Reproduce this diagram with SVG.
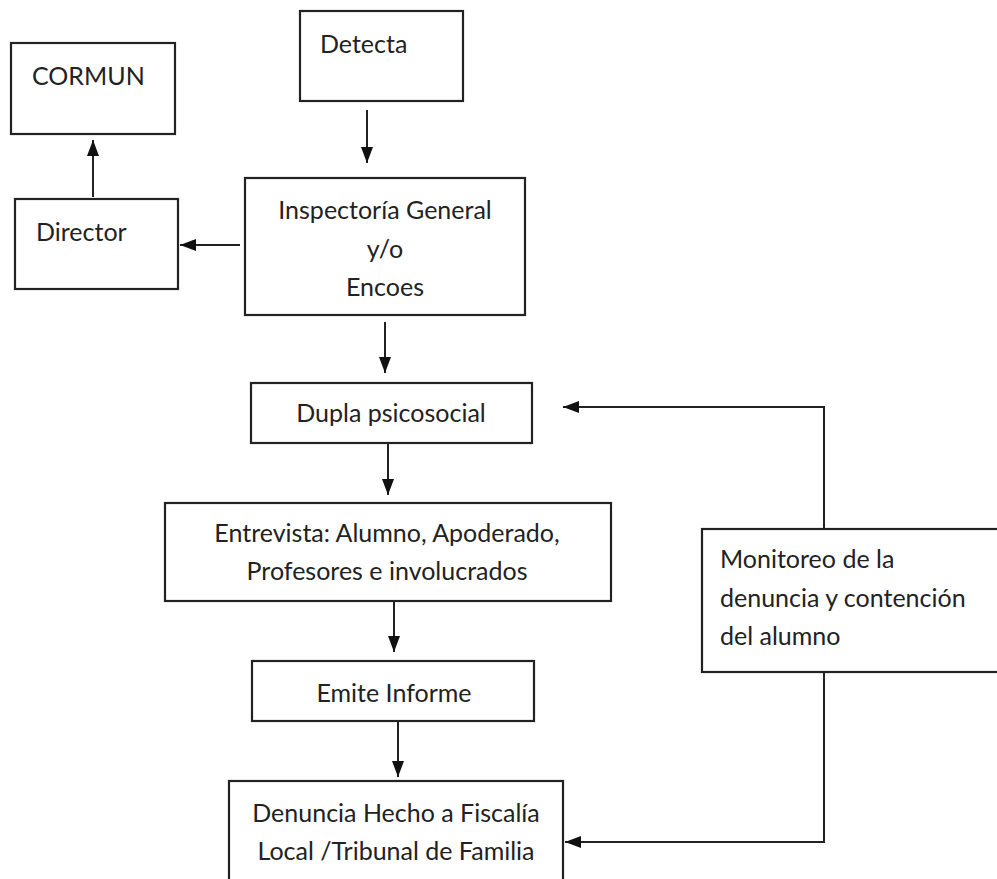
<svg xmlns="http://www.w3.org/2000/svg" width="997" height="879" viewBox="0 0 997 879">
<style>
.box{fill:#fff;stroke:#222;stroke-width:2.2}
.t{font-family:Lato,"Open Sans","Liberation Sans",sans-serif;font-size:25px;fill:#222}
.c{text-anchor:middle}
.ln{fill:none;stroke:#222;stroke-width:2}
</style>
<defs>
<marker id="ah" viewBox="0 0 16 12" refX="16" refY="6" markerWidth="16" markerHeight="12" orient="auto" markerUnits="userSpaceOnUse">
<path d="M0,0 L16,6 L0,12 z" fill="#111"/>
</marker>
</defs>
<rect width="997" height="879" fill="#fff"/>
<g id="cormun"><rect class="box" x="11" y="43" width="164" height="91"/><text class="t" x="32" y="85">CORMUN</text></g>
<g id="detecta"><rect class="box" x="300" y="11" width="163" height="90"/><text class="t" x="320" y="53">Detecta</text></g>
<g id="director"><rect class="box" x="15" y="199" width="163" height="90"/><text class="t" x="36" y="241">Director</text></g>
<g id="inspectoria"><rect class="box" x="245" y="178" width="280" height="137"/><text class="t c" x="385" y="219">Inspectoría General</text><text class="t c" x="385" y="258">y/o</text><text class="t c" x="385" y="296">Encoes</text></g>
<g id="dupla"><rect class="box" x="251" y="383" width="281" height="60"/><text class="t c" x="391" y="422">Dupla psicosocial</text></g>
<g id="entrevista"><rect class="box" x="165" y="503" width="446" height="98"/><text class="t c" x="387" y="542">Entrevista: Alumno, Apoderado,</text><text class="t c" x="387" y="580">Profesores e involucrados</text></g>
<g id="emite"><rect class="box" x="252" y="661" width="282" height="60"/><text class="t c" x="394" y="702">Emite Informe</text></g>
<g id="denuncia"><rect class="box" x="229" y="781" width="334" height="120"/><text class="t c" x="396" y="822">Denuncia Hecho a Fiscalía</text><text class="t c" x="396" y="860">Local /Tribunal de Familia</text></g>
<g id="monitoreo"><rect class="box" x="702" y="529" width="320" height="143"/><text class="t" x="720" y="568">Monitoreo de la</text><text class="t" x="720" y="607">denuncia y contención</text><text class="t" x="720" y="645">del alumno</text></g>
<g id="connectors">
<line class="ln" x1="367" y1="110" x2="367" y2="163" marker-end="url(#ah)"/>
<line class="ln" x1="93" y1="197" x2="93" y2="140" marker-end="url(#ah)"/>
<line class="ln" x1="240" y1="245" x2="180" y2="245" marker-end="url(#ah)"/>
<line class="ln" x1="385" y1="322" x2="385" y2="373" marker-end="url(#ah)"/>
<line class="ln" x1="388" y1="443" x2="388" y2="495" marker-end="url(#ah)"/>
<line class="ln" x1="394" y1="601" x2="394" y2="652" marker-end="url(#ah)"/>
<line class="ln" x1="398" y1="722" x2="398" y2="777" marker-end="url(#ah)"/>
<polyline class="ln" points="824,529 824,407 563,407" marker-end="url(#ah)"/>
<polyline class="ln" points="824,672 824,842 565,842" marker-end="url(#ah)"/>
</g>
</svg>
